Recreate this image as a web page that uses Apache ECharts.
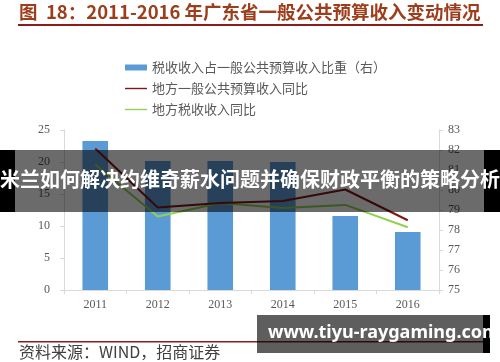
<!DOCTYPE html>
<html>
<head>
<meta charset="utf-8">
<script src="https://cdn.jsdelivr.net/npm/echarts@6/dist/echarts.min.js"></script>
<style>
html,body{margin:0;padding:0;background:#fff;}
#c{width:500px;height:362px;}
</style>
</head>
<body>
<div id="c"></div>
<script>
const years = ['2011', '2012', '2013', '2014', '2015', '2016'];
const taxShare = [82.45, 81.45, 81.45, 81.4, 78.7, 77.9];
const budgetYoY = [22.1, 12.9, 13.6, 13.9, 15.7, 10.9];
const taxYoY = [19.6, 11.5, 13.6, 12.8, 13.3, 9.8];
const leftTicks = [0, 25, 5];
const rightTicks = [75, 83, 1];
const names = ['税收收入占一般公共预算收入比重（右）', '地方一般公共预算收入同比', '地方税收收入同比'];

const chart = echarts.init(document.getElementById('c'), null, {renderer: 'canvas'});
const tickFont = {fontFamily: 'Liberation Serif', fontSize: 12, color: '#595959'};
const lineIcon = 'path://M0,0M22,6M0,2.3H22V3.7H0Z';
chart.setOption({
  animation: false,
  title: {
    text: '图  18：2011-2016 年广东省一般公共预算收入变动情况',
    left: 19, top: 3, padding: 0,
    textStyle: {fontFamily: 'Noto Sans CJK SC', fontSize: 18.5, fontWeight: 'bold', color: '#9e3d1b'}
  },
  legend: {
    orient: 'vertical',
    left: 120, top: 56,
    itemGap: 8,
    itemWidth: 22, itemHeight: 6,
    textStyle: {fontFamily: 'Noto Sans CJK SC', fontSize: 13, color: '#595959'},
    data: [
      {name: names[0], icon: 'rect'},
      {name: names[1], icon: lineIcon},
      {name: names[2], icon: lineIcon}
    ]
  },
  grid: {left: 64, right: 61, top: 130, bottom: 72},
  xAxis: {
    type: 'category',
    data: years,
    axisLine: {lineStyle: {color: '#d9d9d9'}},
    axisTick: {show: true, length: 4, lineStyle: {color: '#d9d9d9'}},
    axisLabel: Object.assign({margin: 9}, tickFont)
  },
  yAxis: [
    {
      type: 'value', min: leftTicks[0], max: leftTicks[1], interval: leftTicks[2],
      axisLine: {show: true, lineStyle: {color: '#d9d9d9'}},
      axisTick: {show: true, length: 4, lineStyle: {color: '#d9d9d9'}},
      splitLine: {show: false},
      axisLabel: Object.assign({margin: 14}, tickFont)
    },
    {
      type: 'value', min: rightTicks[0], max: rightTicks[1], interval: rightTicks[2],
      position: 'right',
      axisLine: {show: true, lineStyle: {color: '#d9d9d9'}},
      axisTick: {show: true, length: 4, lineStyle: {color: '#d9d9d9'}},
      splitLine: {show: false},
      axisLabel: Object.assign({margin: 9}, tickFont)
    }
  ],
  series: [
    {
      name: names[0], type: 'bar', yAxisIndex: 1, data: taxShare,
      barWidth: '41%',
      itemStyle: {color: '#5b9bd5'}
    },
    {
      name: names[2], type: 'line', yAxisIndex: 0, data: taxYoY,
      symbol: 'none',
      lineStyle: {color: '#92d050', width: 2},
      itemStyle: {color: '#92d050'}
    },
    {
      name: names[1], type: 'line', yAxisIndex: 0, data: budgetYoY,
      symbol: 'none',
      lineStyle: {color: '#7f1717', width: 2},
      itemStyle: {color: '#7f1717'}
    }
  ],
  graphic: [
    {type: 'rect', z: 50, shape: {x: 18, y: 24, width: 465, height: 2}, style: {fill: '#8b1c1c'}},
    {type: 'rect', z: 50, shape: {x: 18, y: 341, width: 465, height: 1.5}, style: {fill: '#8b1c1c'}},
    {type: 'text', z: 50, left: 19, top: 344,
      style: {text: '资料来源：WIND，招商证券', fontFamily: 'Noto Sans CJK SC', fontSize: 16, fill: '#404040'}},
    {type: 'rect', z: 100, shape: {x: 0, y: 150, width: 15, height: 62}, style: {fill: '#000'}},
    {type: 'rect', z: 100, shape: {x: 15, y: 150, width: 469, height: 62}, style: {fill: 'rgba(0,0,0,0.58)'}},
    {type: 'rect', z: 100, shape: {x: 484, y: 150, width: 16, height: 62}, style: {fill: '#000'}},
    {type: 'text', z: 101, left: 'center', top: 169,
      style: {text: '米兰如何解决约维奇薪水问题并确保财政平衡的策略分析', fontFamily: 'Noto Sans CJK SC', fontSize: 20, fontWeight: 'bold', fill: '#fff'}},
    {type: 'rect', z: 100, shape: {x: 257, y: 315, width: 226, height: 38}, style: {fill: 'rgba(0,0,0,0.63)'}},
    {type: 'rect', z: 100, shape: {x: 483, y: 315, width: 7, height: 38}, style: {fill: '#000'}},
    {type: 'text', z: 101, left: 268, top: 324,
      style: {text: 'www.tiyu-raygaming.com', fontFamily: 'Noto Sans', fontSize: 18, fontWeight: 'bold', fill: '#fff'}}
  ]
});
</script>
</body>
</html>
